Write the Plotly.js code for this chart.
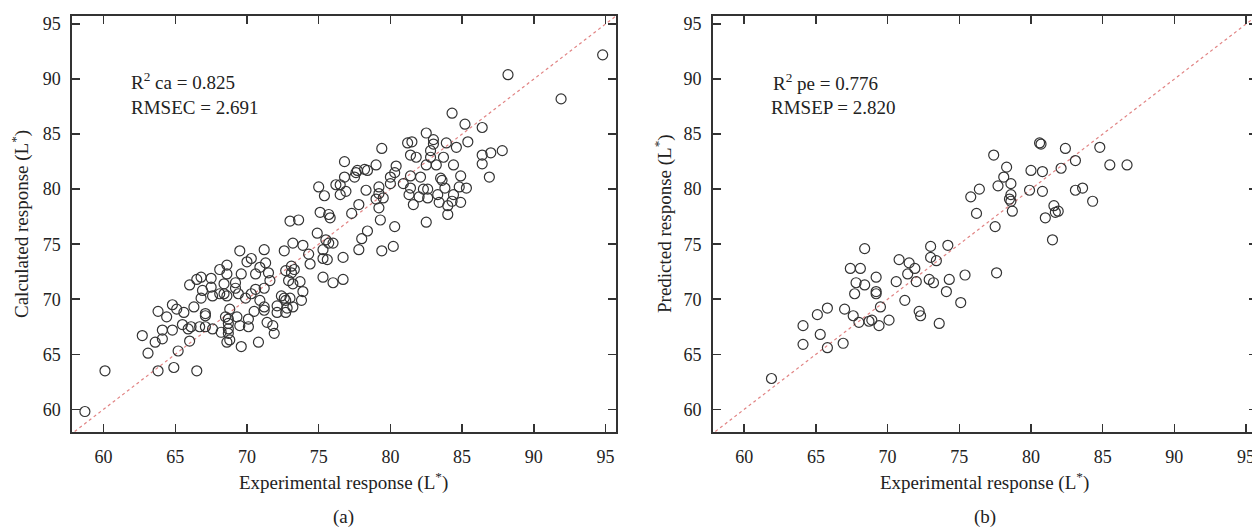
<!DOCTYPE html>
<html>
<head>
<meta charset="utf-8">
<script src="https://cdn.plot.ly/plotly-3.0.1.min.js"></script>
<style>
html,body{margin:0;padding:0;overflow:hidden;background:#fff;}
#chart{width:1257px;height:532px;}
</style>
</head>
<body>
<div id="chart"></div>
<script>
// (a) calibration set: experimental vs calculated L*
const calX = [94.8,88.2,91.9,84.3,85.2,86.4,82.5,83.0,83.0,83.9,85.4,81.2,81.5,79.4,84.6,82.8,81.4,81.8,82.8,83.7,86.4,87.0,87.8,86.4,86.9,76.8,79.0,80.4,82.5,83.2,84.4,78.2,77.6,77.7,78.4,76.8,77.5,80.0,80.3,81.4,82.1,84.9,83.5,83.6,80.9,80.0,76.2,76.5,79.2,81.4,84.8,85.3,78.3,79.2,79.0,79.5,82.3,82.6,82.6,82.0,83.3,83.8,84.4,84.3,81.3,81.6,83.4,84.0,84.0,84.9,77.8,77.3,79.3,80.3,82.5,78.4,78.0,77.8,79.4,80.2,76.7,
75.0,75.4,75.1,75.7,75.8,76.5,76.9,79.2,75.5,75.7,76.0,75.3,75.3,75.6,75.3,76.0,76.7,
58.7,60.1,62.7,63.1,63.6,63.8,63.8,64.1,64.1,64.4,64.8,64.8,64.9,65.1,65.2,65.5,65.6,66.0,65.9,66.0,66.1,66.3,66.5,66.5,66.7,66.8,66.8,66.9,67.1,67.1,67.1,67.5,67.5,67.6,67.6,68.1,68.1,68.2,68.4,68.4,68.6,68.6,68.6,68.5,68.7,68.8,68.7,68.7,68.7,68.6,68.8,69.2,69.2,69.3,69.4,69.5,69.5,69.6,69.6,69.9,70.0,70.1,70.1,70.3,70.3,70.5,70.6,70.6,70.8,70.9,70.9,71.2,71.3,71.2,71.2,71.2,71.4,71.5,71.6,71.8,71.9,72.1,72.1,72.4,72.6,72.6,72.7,72.7,72.7,72.8,72.9,73.0,73.0,73.1,73.1,73.2,73.2,73.2,73.3,73.6,73.7,73.8,73.9,73.9,74.3,74.4,74.9];
const calY = [92.2,90.4,88.2,86.9,85.9,85.6,85.1,84.5,84.1,84.2,84.3,84.2,84.3,83.7,83.8,83.5,83.1,82.9,82.9,82.9,83.1,83.3,83.5,82.3,81.1,82.5,82.2,82.1,82.2,82.2,82.2,81.8,81.5,81.7,81.7,81.1,81.1,81.1,81.5,81.2,81.1,81.2,81.0,80.8,80.5,80.5,80.4,80.4,80.2,80.1,80.2,80.1,79.9,79.6,79.1,79.2,80.0,80.0,79.2,79.3,79.5,80.1,79.5,78.9,79.5,78.6,78.8,78.5,77.7,78.8,78.6,77.8,77.2,76.6,77.0,76.2,75.5,74.5,74.4,74.8,73.8,
80.2,79.4,77.9,77.7,77.4,79.5,79.8,78.3,75.4,75.1,75.1,74.5,73.7,73.6,72.0,71.5,71.8,
59.8,63.5,66.7,65.1,66.1,68.9,63.5,67.2,66.4,68.4,69.5,67.2,63.8,69.1,65.3,67.7,68.8,71.3,67.3,66.2,67.5,69.3,63.5,71.8,67.5,72.0,70.1,70.8,68.7,68.5,67.5,71.9,71.1,70.3,67.3,72.7,70.5,67.0,71.4,70.5,72.3,73.1,70.3,68.4,68.2,69.1,67.8,67.3,66.9,66.1,66.3,71.0,71.5,68.4,70.5,74.4,67.6,65.7,72.3,70.1,73.4,68.2,67.5,73.7,70.5,68.9,70.9,72.3,66.1,69.9,72.9,74.5,73.3,71.0,69.3,69.0,67.9,72.4,71.7,67.6,66.9,68.8,69.4,70.3,74.4,70.1,69.9,72.6,68.8,69.2,71.7,77.1,70.1,73.0,72.4,71.4,69.3,75.1,72.7,77.2,71.6,69.9,74.9,70.7,74.1,73.2,76.0];

// (b) prediction set: experimental vs predicted L*
const predX = [80.6,80.7,82.4,84.8,77.4,83.1,85.5,86.7,78.3,80.0,80.8,82.1,78.1,77.7,78.6,76.4,75.8,79.9,80.8,83.1,83.6,78.6,78.5,78.6,78.7,76.2,84.3,81.6,81.9,81.7,81.0,77.5,81.5,68.4,73.0,74.2,70.8,71.5,71.9,73.0,73.4,67.4,68.1,69.2,71.4,72.0,70.6,67.8,68.4,72.9,73.2,74.3,75.4,77.6,67.7,69.2,69.2,74.1,71.2,75.1,67.0,67.6,69.5,72.2,72.3,68.0,68.7,68.9,69.4,70.1,73.6,66.9,61.9,64.1,64.1,65.1,65.3,65.8,65.8];
const predY = [84.2,84.1,83.7,83.8,83.1,82.6,82.2,82.2,82.0,81.7,81.6,81.9,81.1,80.3,80.5,80.0,79.3,79.9,79.8,79.9,80.1,79.5,79.1,78.9,78.0,77.8,78.9,78.5,78.0,77.9,77.4,76.6,75.4,74.6,74.8,74.9,73.6,73.3,72.8,73.8,73.5,72.8,72.8,72.0,72.3,71.6,71.6,71.5,71.3,71.8,71.5,71.8,72.2,72.4,70.5,70.7,70.5,70.7,69.9,69.7,69.1,68.5,69.3,68.9,68.5,67.9,68.0,68.1,67.6,68.1,67.8,66.0,62.8,67.6,65.9,68.6,66.8,69.2,65.6];

const tickVals = [60,65,70,75,80,85,90,95];
const axisRange = [57.8,95.73];
const yRange = [57.94,95.73];
const diag = [55,100];

const xTitle = 'Experimental response (L<sup>*</sup>)';
const yTitleA = 'Calculated response (L<sup>*</sup>)';
const yTitleB = 'Predicted response (L<sup>*</sup>)';
const statsA = ['R<sup>2</sup> ca = 0.825','RMSEC = 2.691'];
const statsB = ['R<sup>2</sup> pe = 0.776','RMSEP = 2.820'];
const panelLabels = ['(a)','(b)'];

const FONT = 'Liberation Serif, Times New Roman, serif';
const INK = '#222';

const marker = {symbol:'circle-open', size:10, color:'#333', line:{width:1.2, color:'#333'}};
const diagLine = {color:'rgba(215,90,90,0.75)', width:1.2, dash:'dot'};

const traces = [
  {x:diag, y:diag, mode:'lines', line:diagLine, xaxis:'x', yaxis:'y', hoverinfo:'skip'},
  {x:calX, y:calY, mode:'markers', marker:marker, xaxis:'x', yaxis:'y'},
  {x:diag, y:diag, mode:'lines', line:diagLine, xaxis:'x2', yaxis:'y2', hoverinfo:'skip'},
  {x:predX, y:predY, mode:'markers', marker:marker, xaxis:'x2', yaxis:'y2'}
];

function ax(extra){
  return Object.assign({
    tickvals:tickVals, ticks:'inside', ticklen:8, tickwidth:1.5, tickcolor:'#333',
    showline:true, linecolor:'#333', linewidth:1.6, mirror:'ticks',
    showgrid:false, zeroline:false, automargin:false,
    tickfont:{family:FONT, size:18, color:INK}
  }, extra);
}

const W = 1257;
const annFont = {family:FONT, size:19, color:INK};
const annotations = [
  {xref:'paper', yref:'paper', x:343/W, y:-0.118, text:xTitle, showarrow:false, font:annFont, xanchor:'center', yanchor:'middle'},
  {xref:'paper', yref:'paper', x:985/W, y:-0.118, text:xTitle, showarrow:false, font:annFont, xanchor:'center', yanchor:'middle'},
  {xref:'paper', yref:'paper', x:343/W, y:-0.204, text:panelLabels[0], showarrow:false, font:annFont, xanchor:'center', yanchor:'middle'},
  {xref:'paper', yref:'paper', x:985/W, y:-0.204, text:panelLabels[1], showarrow:false, font:annFont, xanchor:'center', yanchor:'middle'},
  {xref:'paper', yref:'paper', x:20/W, y:0.5, text:yTitleA, textangle:-90, showarrow:false, font:annFont, xanchor:'center', yanchor:'middle'},
  {xref:'paper', yref:'paper', x:663/W, y:0.5, text:yTitleB, textangle:-90, showarrow:false, font:annFont, xanchor:'center', yanchor:'middle'},
  {xref:'x', yref:'y', x:61.75, y:89.8, text:statsA[0], showarrow:false, font:annFont, xanchor:'left', yanchor:'middle'},
  {xref:'x', yref:'y', x:61.75, y:87.45, text:statsA[1], showarrow:false, font:annFont, xanchor:'left', yanchor:'middle'},
  {xref:'x2', yref:'y2', x:61.85, y:89.7, text:statsB[0], showarrow:false, font:annFont, xanchor:'left', yanchor:'middle'},
  {xref:'x2', yref:'y2', x:61.7, y:87.4, text:statsB[1], showarrow:false, font:annFont, xanchor:'left', yanchor:'middle'}
];

const layout = {
  width:W, height:532,
  margin:{l:0, r:0, t:16, b:100},
  paper_bgcolor:'#fff', plot_bgcolor:'#fff',
  showlegend:false,
  font:{family:FONT, color:INK},
  xaxis: ax({domain:[72/W, 616/W], range:axisRange, anchor:'y', ticklabelstandoff:8}),
  yaxis: ax({domain:[0,1], range:yRange, anchor:'x', ticklabelstandoff:6}),
  xaxis2: ax({domain:[712.7/W, 1256.5/W], range:axisRange, anchor:'y2', ticklabelstandoff:8}),
  yaxis2: ax({domain:[0,1], range:yRange, anchor:'x2', ticklabelstandoff:6}),
  annotations:annotations
};

Plotly.newPlot('chart', traces, layout, {displayModeBar:false, staticPlot:true});
</script>
</body>
</html>
